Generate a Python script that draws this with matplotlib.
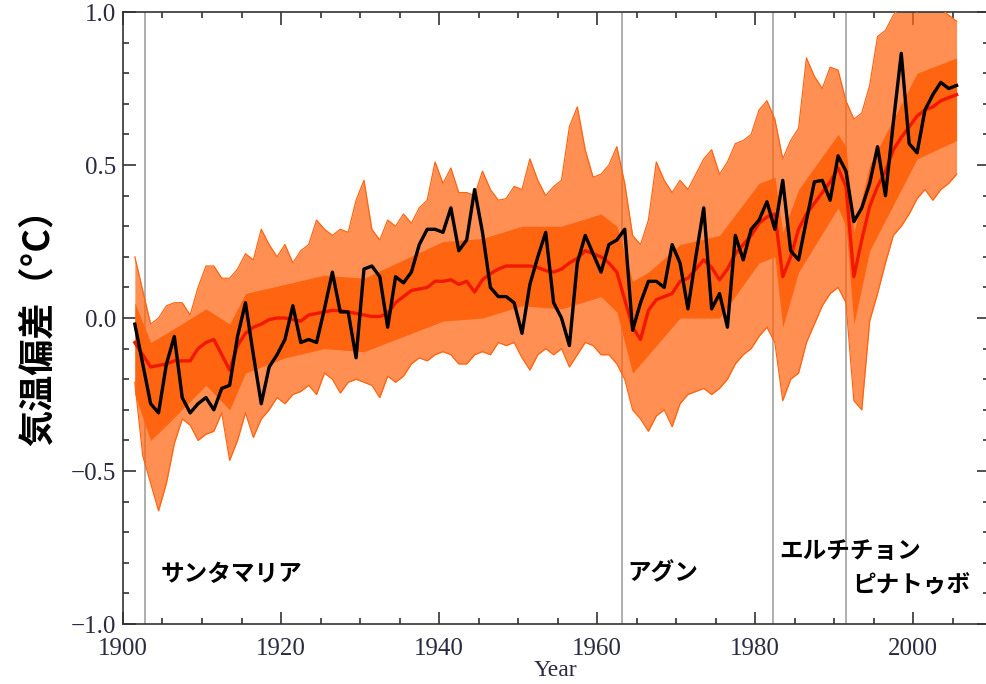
import matplotlib
matplotlib.use("Agg")
import matplotlib.pyplot as plt
from matplotlib.ticker import MultipleLocator
import numpy as np

years = list(range(1901, 2006))

obs = [-0.02, -0.15, -0.28, -0.31, -0.15, -0.06, -0.26, -0.31, -0.28, -0.26,
       -0.30, -0.23, -0.22, -0.06, 0.05, -0.12, -0.28, -0.16, -0.12, -0.07,
       0.04, -0.08, -0.07, -0.08, 0.03, 0.15, 0.02, 0.02, -0.13, 0.16,
       0.17, 0.135, -0.03, 0.135, 0.115, 0.15, 0.24, 0.29, 0.29, 0.28,
       0.36, 0.22, 0.255, 0.42, 0.28, 0.10, 0.07, 0.07, 0.05, -0.05,
       0.11, 0.20, 0.28, 0.05, 0.00, -0.09, 0.18, 0.27, 0.21, 0.15,
       0.24, 0.255, 0.29, -0.04, 0.05, 0.12, 0.12, 0.10, 0.24, 0.18,
       0.03, 0.20, 0.36, 0.03, 0.08, -0.03, 0.27, 0.19, 0.29, 0.32,
       0.38, 0.29, 0.45, 0.22, 0.19, 0.32, 0.445, 0.45, 0.385, 0.53,
       0.48, 0.315, 0.36, 0.44, 0.56, 0.40, 0.64, 0.865, 0.57, 0.54,
       0.68, 0.73, 0.77, 0.75, 0.76]

ens_mean = [-0.08, -0.12, -0.16, -0.155, -0.15, -0.14, -0.14, -0.14, -0.10, -0.08,
            -0.07, -0.12, -0.17, -0.09, -0.05, -0.03, -0.02, -0.005, 0.0, 0.0,
            -0.005, -0.01, 0.01, 0.015, 0.02, 0.025, 0.025, 0.02, 0.015, 0.01,
            0.005, 0.005, 0.015, 0.05, 0.07, 0.09, 0.095, 0.10, 0.12, 0.12,
            0.125, 0.11, 0.12, 0.085, 0.125, 0.145, 0.16, 0.17, 0.17, 0.17,
            0.17, 0.165, 0.155, 0.15, 0.16, 0.18, 0.195, 0.22, 0.21, 0.20,
            0.18, 0.15, 0.06, -0.03, -0.07, 0.025, 0.06, 0.07, 0.08, 0.12,
            0.13, 0.16, 0.19, 0.165, 0.125, 0.16, 0.21, 0.24, 0.27, 0.31,
            0.33, 0.34, 0.135, 0.20, 0.29, 0.34, 0.375, 0.41, 0.445, 0.49,
            0.43, 0.135, 0.255, 0.365, 0.43, 0.48, 0.55, 0.59, 0.625, 0.66,
            0.68, 0.69, 0.71, 0.72, 0.73]

ens_max = [0.20, 0.09, -0.02, 0.0, 0.04, 0.05, 0.05, 0.01, 0.10, 0.17,
           0.17, 0.13, 0.13, 0.16, 0.21, 0.19, 0.29, 0.24, 0.20, 0.24,
           0.18, 0.22, 0.24, 0.32, 0.29, 0.27, 0.29, 0.28, 0.385, 0.45,
           0.29, 0.255, 0.32, 0.30, 0.34, 0.31, 0.36, 0.385, 0.51, 0.44,
           0.49, 0.41, 0.41, 0.40, 0.48, 0.42, 0.385, 0.39, 0.43, 0.42,
           0.52, 0.45, 0.40, 0.43, 0.45, 0.625, 0.69, 0.55, 0.46, 0.47,
           0.50, 0.56, 0.44, 0.27, 0.24, 0.32, 0.51, 0.45, 0.41, 0.45,
           0.42, 0.47, 0.52, 0.55, 0.47, 0.51, 0.57, 0.58, 0.60, 0.68,
           0.71, 0.65, 0.52, 0.58, 0.62, 0.85, 0.79, 0.75, 0.82, 0.81,
           0.71, 0.65, 0.67, 0.76, 0.92, 0.94, 0.99, 1.02, 1.04, 1.00,
           1.03, 1.02, 1.01, 0.99, 0.97]

ens_min = [-0.21, -0.45, -0.54, -0.63, -0.54, -0.41, -0.33, -0.35, -0.40, -0.38,
           -0.37, -0.31, -0.465, -0.40, -0.31, -0.39, -0.33, -0.30, -0.26, -0.28,
           -0.25, -0.24, -0.22, -0.25, -0.18, -0.20, -0.245, -0.21, -0.20, -0.21,
           -0.22, -0.26, -0.19, -0.21, -0.19, -0.15, -0.13, -0.14, -0.12, -0.11,
           -0.12, -0.15, -0.15, -0.12, -0.11, -0.12, -0.08, -0.09, -0.08, -0.13,
           -0.17, -0.12, -0.10, -0.12, -0.10, -0.16, -0.12, -0.08, -0.09, -0.12,
           -0.12, -0.15, -0.20, -0.30, -0.33, -0.37, -0.32, -0.30, -0.355, -0.28,
           -0.25, -0.24, -0.23, -0.25, -0.23, -0.20, -0.15, -0.12, -0.10, -0.06,
           -0.03, -0.08, -0.27, -0.20, -0.18, -0.08, -0.02, 0.04, 0.08, 0.10,
           0.05, -0.27, -0.30, -0.01, 0.08, 0.18, 0.27, 0.30, 0.34, 0.39,
           0.42, 0.385, 0.42, 0.44, 0.47]

core_years = [1901, 1903, 1905, 1910, 1913, 1915, 1920, 1925, 1930, 1935, 1940,
              1945, 1950, 1955, 1960, 1962, 1964, 1966, 1970, 1975, 1980, 1982,
              1983, 1985, 1990, 1991, 1992, 1994, 2000, 2005]
core_hi = [0.05, -0.08, -0.05, 0.03, -0.02, 0.08, 0.11, 0.14, 0.13, 0.19, 0.25,
           0.26, 0.30, 0.30, 0.34, 0.30, 0.12, 0.15, 0.24, 0.27, 0.44, 0.46,
           0.28, 0.42, 0.60, 0.56, 0.28, 0.50, 0.80, 0.85]
core_lo = [-0.25, -0.40, -0.35, -0.22, -0.30, -0.18, -0.13, -0.10, -0.11, -0.06, -0.01,
           0.00, 0.04, 0.03, 0.07, 0.02, -0.18, -0.12, 0.00, 0.00, 0.18, 0.20,
           -0.03, 0.15, 0.36, 0.30, -0.02, 0.22, 0.52, 0.58]

eruption_years = [1902.8, 1963.2, 1982.3, 1991.5]
eruption_names = ["サンタマリア", "アグン", "エルチチョン", "ピナトゥボ"]
label_dx = [2.0, 0.6, 0.8, 0.8]
label_y = [-0.835, -0.835, -0.76, -0.875]

x_tick_labels = ["1900", "1920", "1940", "1960", "1980", "2000"]
y_tick_labels = ["\u22121.0", "\u22120.5", "0.0", "0.5", "1.0"]

ORANGE = "#ff6410"
x = np.array(years) + 0.5
cx = np.array(core_years) + 0.5

fig = plt.figure(figsize=(9.87, 6.84), dpi=100)
ax = fig.add_axes([0.1246, 0.0877, 0.8774, 0.8947])

for ey in eruption_years:
    ax.axvline(ey, color="#a8a8a8", lw=1.3, zorder=1)

ax.fill_between(x, ens_min, ens_max, color=ORANGE, alpha=0.72, lw=0, zorder=2)
ax.fill_between(cx, core_lo, core_hi, color=ORANGE, lw=0, zorder=3)
ax.plot(x, ens_max, color=ORANGE, lw=0.9, zorder=3)
ax.plot(x, ens_min, color=ORANGE, lw=0.9, zorder=3)
ax.plot(x, ens_mean, color="#f21800", lw=2.4, zorder=4)
ax.plot(x, obs, color="black", lw=2.4, zorder=5)

jp = ["Noto Sans CJK JP", "DejaVu Sans"]
for ey, name, dx, ty in zip(eruption_years, eruption_names, label_dx, label_y):
    ax.text(ey + dx, ty, name, family=jp, fontsize=17, fontweight="bold",
            ha="left", va="center", color="black", zorder=6)

ax.set_xlim(1900, 2009.6)
ax.set_ylim(-1.0, 1.0)
ax.set_xticks([1900, 1920, 1940, 1960, 1980, 2000])
ax.set_xticklabels(x_tick_labels)
ax.set_yticks([-1.0, -0.5, 0.0, 0.5, 1.0])
ax.set_yticklabels(y_tick_labels)
ax.xaxis.set_minor_locator(MultipleLocator(5))
ax.yaxis.set_minor_locator(MultipleLocator(0.1))
ax.tick_params(which="both", direction="in", top=True, right=True,
               color="#333333", width=1.2)
ax.tick_params(which="major", length=9, labelsize=18, labelcolor="#2a2a40")
ax.tick_params(axis="x", which="major", pad=10)
ax.tick_params(axis="y", which="major", pad=5)
ax.tick_params(which="minor", length=4.5)
for lab in ax.get_xticklabels() + ax.get_yticklabels():
    lab.set_family("Liberation Serif")
for sp in ax.spines.values():
    sp.set_color("#333333")
    sp.set_linewidth(1.2)

ax.set_xlabel("Year", family="Liberation Serif", fontsize=17, color="#2a2a40", labelpad=0)
ax.set_ylabel("気温偏差（°C）", family=jp, fontsize=26, fontweight="bold",
              color="black", labelpad=10)

fig.savefig("out.png", dpi=100)
